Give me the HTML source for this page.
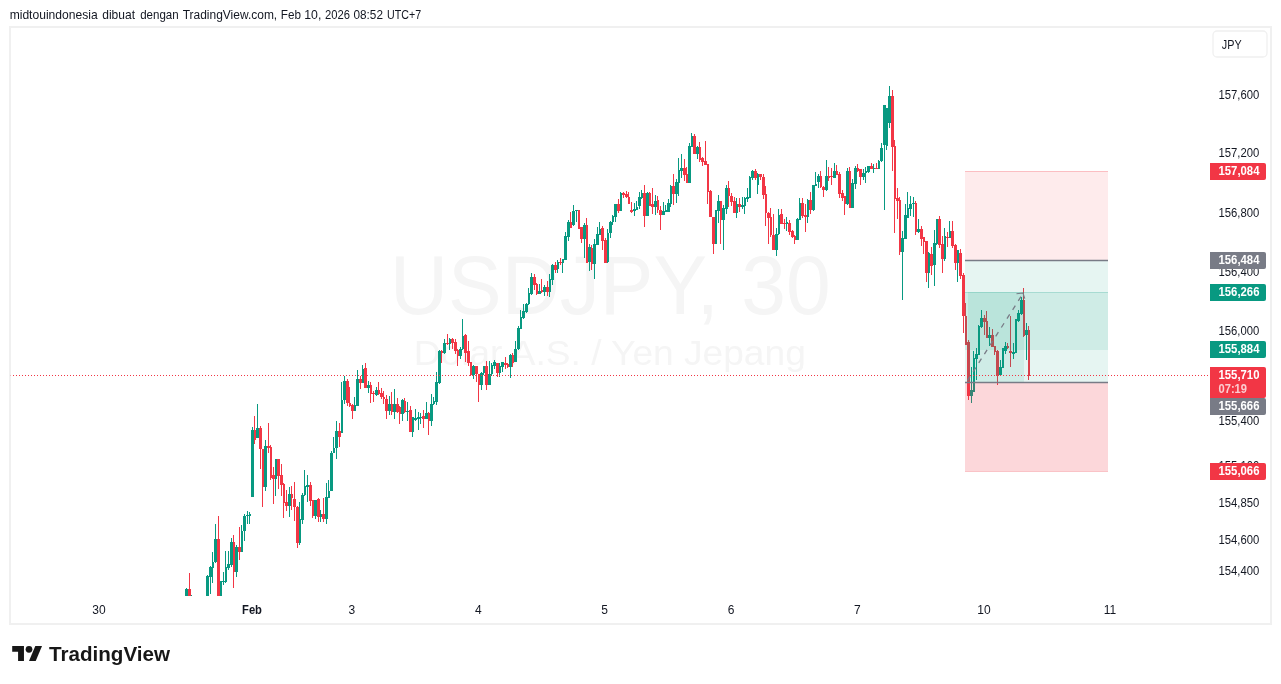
<!DOCTYPE html>
<html><head><meta charset="utf-8"><title>USDJPY</title>
<style>
html,body{margin:0;padding:0;background:#fff;}
body{width:1281px;height:684px;overflow:hidden;position:relative;font-family:"Liberation Sans",sans-serif;}
svg{position:absolute;left:0;top:0;display:block;will-change:transform;}
svg text{font-family:"Liberation Sans",sans-serif;}
</style></head><body>
<svg width="1281" height="684" viewBox="0 0 1281 684">
<rect x="0" y="0" width="1281" height="684" fill="#ffffff"/>
<!-- header -->
<text transform="translate(9.64,18.8) scale(1.0081,1)" font-size="12" font-weight="normal" fill="#131722">midtouindonesia</text><text transform="translate(102.20,18.8) scale(1.0047,1)" font-size="12" font-weight="normal" fill="#131722">dibuat</text><text transform="translate(140.17,18.8) scale(0.9613,1)" font-size="12" font-weight="normal" fill="#131722">dengan</text><text transform="translate(182.65,18.8) scale(0.9989,1)" font-size="12" font-weight="normal" fill="#131722">TradingView.com,</text><text transform="translate(280.82,18.8) scale(0.9766,1)" font-size="12" font-weight="normal" fill="#131722">Feb</text><text transform="translate(304.28,18.8) scale(1.0237,1)" font-size="12" font-weight="normal" fill="#131722">10,</text><text transform="translate(325.03,18.8) scale(0.9359,1)" font-size="12" font-weight="normal" fill="#131722">2026</text><text transform="translate(353.51,18.8) scale(0.9828,1)" font-size="12" font-weight="normal" fill="#131722">08:52</text><text transform="translate(387.01,18.8) scale(0.8898,1)" font-size="12" font-weight="normal" fill="#131722">UTC+7</text>
<!-- frame -->
<rect x="10" y="27" width="1261" height="597" fill="#ffffff" stroke="#f0f0f0" stroke-width="2"/>
<!-- watermark -->
<g fill="#f5f5f5">
<text id="wm1" transform="translate(390.1,314.3) scale(1.004,1.05)" font-size="80">USDJPY, 30</text>
<text id="wm2" transform="translate(413.75,364.75) scale(1.031,0.995)" font-size="36">Dolar A.S. / Yen Jepang</text>
</g>
<!-- candles -->
<g shape-rendering="crispEdges"><path fill="#089981" d="M186 588h1v8h-1zM185 589h3v7h-3z"/><path fill="#f23645" d="M189 573h1v23h-1zM188 589h3v7h-3z"/><path fill="#089981" d="M191 595h1v1h-1zM207 575h1v21h-1zM206 576h3v20h-3zM210 566h1v28h-1zM209 567h3v10h-3zM212 552h1v31h-1zM212 562h2v6h-2zM215 524h1v39h-1zM214 539h3v23h-3z"/><path fill="#f23645" d="M218 516h1v80h-1zM217 539h3v57h-3z"/><path fill="#089981" d="M220 581h1v15h-1zM220 581h2v15h-2zM223 572h1v13h-1zM222 581h3v1h-3zM225 551h1v32h-1zM225 567h2v15h-2zM228 551h1v19h-1zM227 564h3v4h-3zM231 538h1v29h-1zM230 542h3v23h-3z"/><path fill="#f23645" d="M233 535h1v53h-1zM233 542h2v30h-2z"/><path fill="#089981" d="M236 545h1v32h-1zM235 547h3v25h-3z"/><path fill="#f23645" d="M239 527h1v33h-1zM238 547h3v5h-3z"/><path fill="#089981" d="M241 525h1v27h-1zM241 531h2v21h-2zM244 514h1v27h-1zM243 516h3v15h-3zM247 511h1v13h-1zM246 515h3v1h-3zM249 512h1v12h-1zM249 514h2v2h-2zM252 427h1v70h-1zM251 430h3v67h-3z"/><path fill="#f23645" d="M254 416h1v28h-1zM254 430h2v10h-2z"/><path fill="#089981" d="M257 404h1v34h-1zM256 428h3v10h-3z"/><path fill="#f23645" d="M260 426h1v43h-1zM259 428h3v21h-3zM262 449h1v58h-1zM262 449h2v38h-2z"/><path fill="#089981" d="M265 440h1v51h-1zM264 446h3v41h-3z"/><path fill="#f23645" d="M268 423h1v30h-1zM267 446h3v2h-3zM270 445h1v35h-1zM270 447h2v31h-2zM273 467h1v37h-1zM272 475h3v4h-3z"/><path fill="#089981" d="M275 459h1v37h-1zM275 459h2v20h-2z"/><path fill="#f23645" d="M278 459h1v30h-1zM277 459h3v17h-3zM281 464h1v32h-1zM280 475h3v10h-3zM283 483h1v35h-1zM283 484h2v19h-2zM286 490h1v21h-1zM285 502h3v4h-3z"/><path fill="#089981" d="M289 487h1v30h-1zM288 494h3v12h-3z"/><path fill="#f23645" d="M291 486h1v24h-1zM291 494h2v4h-2zM294 482h1v39h-1zM293 499h3v8h-3zM297 506h1v42h-1zM296 507h3v36h-3z"/><path fill="#089981" d="M299 502h1v43h-1zM299 519h2v24h-2zM302 493h1v31h-1zM301 495h3v25h-3zM304 470h1v26h-1zM304 486h2v9h-2zM307 475h1v27h-1zM306 485h3v2h-3z"/><path fill="#f23645" d="M310 482h1v24h-1zM309 485h3v16h-3zM312 500h1v18h-1zM312 500h2v16h-2z"/><path fill="#089981" d="M315 500h1v19h-1zM314 500h3v16h-3z"/><path fill="#f23645" d="M318 498h1v24h-1zM317 499h3v18h-3z"/><path fill="#089981" d="M320 510h1v12h-1zM320 514h2v3h-2z"/><path fill="#f23645" d="M323 498h1v24h-1zM322 514h3v5h-3z"/><path fill="#089981" d="M326 483h1v41h-1zM325 497h3v22h-3zM328 480h1v18h-1zM328 491h2v7h-2zM331 451h1v40h-1zM330 453h3v38h-3zM333 437h1v16h-1zM333 448h2v5h-2zM336 421h1v38h-1zM335 431h3v17h-3z"/><path fill="#f23645" d="M339 423h1v24h-1zM338 431h3v6h-3z"/><path fill="#089981" d="M341 382h1v51h-1zM341 400h2v33h-2zM344 376h1v28h-1zM343 381h3v19h-3z"/><path fill="#f23645" d="M347 379h1v27h-1zM346 381h3v22h-3zM349 387h1v20h-1zM349 403h2v3h-2zM352 404h1v15h-1zM351 405h3v6h-3z"/><path fill="#089981" d="M354 397h1v14h-1zM354 405h2v6h-2zM357 370h1v36h-1zM356 379h3v27h-3z"/><path fill="#f23645" d="M360 376h1v13h-1zM359 379h3v4h-3z"/><path fill="#089981" d="M362 365h1v18h-1zM362 369h2v14h-2z"/><path fill="#f23645" d="M365 363h1v25h-1zM364 368h3v20h-3z"/><path fill="#089981" d="M368 381h1v12h-1zM367 385h3v3h-3z"/><path fill="#f23645" d="M370 382h1v21h-1zM370 385h2v9h-2zM373 391h1v11h-1zM372 393h3v1h-3z"/><path fill="#089981" d="M376 387h1v9h-1zM375 390h3v5h-3z"/><path fill="#f23645" d="M378 382h1v13h-1zM378 390h2v4h-2zM381 388h1v11h-1zM380 393h3v4h-3zM383 391h1v13h-1zM383 397h2v2h-2zM386 395h1v24h-1zM385 399h3v12h-3z"/><path fill="#089981" d="M389 396h1v19h-1zM388 404h3v7h-3z"/><path fill="#f23645" d="M391 392h1v23h-1zM391 404h2v8h-2z"/><path fill="#089981" d="M394 389h1v30h-1zM393 404h3v8h-3z"/><path fill="#f23645" d="M397 398h1v15h-1zM396 404h3v8h-3zM399 406h1v18h-1zM399 407h2v7h-2z"/><path fill="#089981" d="M402 399h1v22h-1zM401 400h3v14h-3z"/><path fill="#f23645" d="M404 398h1v15h-1zM404 401h2v11h-2z"/><path fill="#089981" d="M407 402h1v19h-1zM406 411h3v1h-3z"/><path fill="#f23645" d="M410 406h1v26h-1zM409 410h3v22h-3z"/><path fill="#089981" d="M412 417h1v20h-1zM412 417h2v15h-2zM415 409h1v12h-1zM414 418h3v2h-3zM418 412h1v18h-1zM417 417h3v2h-3zM420 413h1v11h-1zM420 417h2v1h-2z"/><path fill="#f23645" d="M423 410h1v18h-1zM422 416h3v3h-3z"/><path fill="#089981" d="M426 402h1v17h-1zM425 413h3v6h-3z"/><path fill="#f23645" d="M428 412h1v23h-1zM428 413h2v8h-2z"/><path fill="#089981" d="M431 394h1v32h-1zM430 404h3v17h-3zM433 397h1v8h-1zM433 401h2v3h-2zM436 372h1v33h-1zM435 382h3v20h-3zM439 350h1v34h-1zM438 351h3v32h-3z"/><path fill="#f23645" d="M441 350h1v13h-1zM441 351h2v2h-2z"/><path fill="#089981" d="M444 339h1v15h-1zM443 343h3v10h-3z"/><path fill="#f23645" d="M447 334h1v11h-1zM446 343h3v1h-3z"/><path fill="#089981" d="M449 338h1v12h-1zM449 339h2v5h-2z"/><path fill="#f23645" d="M452 338h1v11h-1zM451 339h3v4h-3zM455 339h1v15h-1zM454 342h3v9h-3zM457 349h1v17h-1zM457 350h2v6h-2z"/><path fill="#089981" d="M460 347h1v12h-1zM459 349h3v7h-3zM462 319h1v31h-1zM462 336h2v13h-2z"/><path fill="#f23645" d="M465 334h1v28h-1zM464 335h3v18h-3zM468 341h1v25h-1zM467 351h3v12h-3zM470 362h1v14h-1zM470 362h2v13h-2z"/><path fill="#089981" d="M473 365h1v14h-1zM472 366h3v9h-3z"/><path fill="#f23645" d="M476 366h1v16h-1zM475 366h3v8h-3zM478 374h1v28h-1zM478 374h2v11h-2z"/><path fill="#089981" d="M481 372h1v18h-1zM480 373h3v12h-3zM483 366h1v9h-1zM483 366h2v7h-2z"/><path fill="#f23645" d="M486 361h1v29h-1zM485 366h3v19h-3z"/><path fill="#089981" d="M489 361h1v24h-1zM488 374h3v11h-3zM491 363h1v13h-1zM491 365h2v9h-2zM494 360h1v9h-1zM493 362h3v4h-3z"/><path fill="#f23645" d="M497 363h1v14h-1zM496 363h3v10h-3z"/><path fill="#089981" d="M499 363h1v14h-1zM499 366h2v7h-2zM502 362h1v10h-1zM501 362h3v5h-3z"/><path fill="#f23645" d="M505 357h1v12h-1zM504 363h3v2h-3zM507 363h1v5h-1zM507 364h2v3h-2z"/><path fill="#089981" d="M510 354h1v24h-1zM509 355h3v12h-3z"/><path fill="#f23645" d="M512 353h1v14h-1zM512 355h2v8h-2z"/><path fill="#089981" d="M515 341h1v21h-1zM514 349h3v13h-3zM518 326h1v24h-1zM517 328h3v21h-3zM520 310h1v19h-1zM520 317h2v12h-2zM523 304h1v15h-1zM522 311h3v7h-3zM526 303h1v10h-1zM525 304h3v8h-3zM528 288h1v17h-1zM528 293h2v11h-2zM531 273h1v22h-1zM530 277h3v17h-3z"/><path fill="#f23645" d="M534 274h1v16h-1zM533 277h3v8h-3zM536 283h1v12h-1zM536 284h2v10h-2z"/><path fill="#089981" d="M539 284h1v10h-1zM538 291h3v3h-3z"/><path fill="#f23645" d="M541 279h1v14h-1zM541 290h2v2h-2z"/><path fill="#089981" d="M544 285h1v11h-1zM543 287h3v5h-3z"/><path fill="#f23645" d="M547 281h1v15h-1zM546 287h3v5h-3z"/><path fill="#089981" d="M549 274h1v23h-1zM549 279h2v13h-2zM552 264h1v21h-1zM551 265h3v15h-3z"/><path fill="#f23645" d="M555 262h1v11h-1zM554 265h3v5h-3z"/><path fill="#089981" d="M557 260h1v13h-1zM557 262h2v7h-2z"/><path fill="#f23645" d="M560 258h1v7h-1zM559 262h3v1h-3z"/><path fill="#089981" d="M562 259h1v14h-1zM562 259h2v4h-2zM565 232h1v28h-1zM564 236h3v24h-3zM568 220h1v21h-1zM567 222h3v15h-3z"/><path fill="#f23645" d="M570 212h1v16h-1zM570 222h2v6h-2z"/><path fill="#089981" d="M573 205h1v21h-1zM572 211h3v14h-3zM576 210h1v12h-1zM575 210h3v1h-3z"/><path fill="#f23645" d="M578 210h1v19h-1zM578 210h2v19h-2zM581 227h1v16h-1zM580 227h3v12h-3z"/><path fill="#089981" d="M584 223h1v35h-1zM583 225h3v14h-3z"/><path fill="#f23645" d="M586 218h1v45h-1zM586 225h2v38h-2z"/><path fill="#089981" d="M589 244h1v27h-1zM588 247h3v15h-3z"/><path fill="#f23645" d="M591 245h1v25h-1zM591 248h2v16h-2z"/><path fill="#089981" d="M594 239h1v40h-1zM593 244h3v20h-3zM597 227h1v18h-1zM596 234h3v11h-3zM599 222h1v13h-1zM599 229h2v6h-2z"/><path fill="#f23645" d="M602 226h1v24h-1zM601 228h3v13h-3zM605 238h1v25h-1zM604 240h3v23h-3z"/><path fill="#089981" d="M607 229h1v34h-1zM607 233h2v29h-2zM610 221h1v17h-1zM609 222h3v11h-3zM612 215h1v10h-1zM612 216h2v6h-2zM615 204h1v18h-1zM614 204h3v13h-3z"/><path fill="#f23645" d="M618 199h1v14h-1zM617 204h3v7h-3z"/><path fill="#089981" d="M620 192h1v19h-1zM620 193h2v18h-2z"/><path fill="#f23645" d="M623 192h1v6h-1zM622 193h3v2h-3zM626 191h1v7h-1zM625 194h3v3h-3zM628 192h1v12h-1zM628 197h2v7h-2zM631 202h1v11h-1zM630 210h3v2h-3z"/><path fill="#089981" d="M634 203h1v13h-1zM633 209h3v2h-3zM636 201h1v9h-1zM636 207h2v3h-2zM639 192h1v17h-1zM638 197h3v9h-3zM641 190h1v9h-1zM641 193h2v5h-2z"/><path fill="#f23645" d="M644 185h1v42h-1zM643 193h3v23h-3z"/><path fill="#089981" d="M647 192h1v24h-1zM646 193h3v23h-3z"/><path fill="#f23645" d="M649 192h1v14h-1zM649 193h2v13h-2zM652 188h1v26h-1zM651 204h3v3h-3z"/><path fill="#089981" d="M655 195h1v20h-1zM654 201h3v6h-3z"/><path fill="#f23645" d="M657 196h1v17h-1zM657 200h2v10h-2zM660 206h1v24h-1zM659 210h3v5h-3z"/><path fill="#089981" d="M663 202h1v13h-1zM662 211h3v4h-3zM665 205h1v7h-1zM665 210h2v2h-2zM668 199h1v13h-1zM667 203h3v9h-3zM670 185h1v22h-1zM670 186h2v18h-2z"/><path fill="#f23645" d="M673 174h1v31h-1zM672 186h3v8h-3z"/><path fill="#089981" d="M676 179h1v24h-1zM675 182h3v12h-3zM678 158h1v38h-1zM678 170h2v13h-2zM681 154h1v24h-1zM680 168h3v3h-3z"/><path fill="#f23645" d="M684 159h1v22h-1zM683 168h3v7h-3zM686 167h1v16h-1zM686 174h2v9h-2z"/><path fill="#089981" d="M689 143h1v40h-1zM688 146h3v37h-3zM691 133h1v14h-1zM691 136h2v11h-2z"/><path fill="#f23645" d="M694 134h1v20h-1zM693 136h3v18h-3z"/><path fill="#089981" d="M697 146h1v13h-1zM696 147h3v7h-3z"/><path fill="#f23645" d="M699 142h1v20h-1zM699 147h2v13h-2zM702 157h1v9h-1zM701 158h3v4h-3zM705 141h1v24h-1zM704 161h3v4h-3zM707 164h1v40h-1zM707 164h2v28h-2zM710 190h1v27h-1zM709 191h3v26h-3zM713 217h1v37h-1zM712 217h3v27h-3z"/><path fill="#089981" d="M715 210h1v34h-1zM715 210h2v34h-2zM718 195h1v28h-1zM717 201h3v10h-3z"/><path fill="#f23645" d="M720 201h1v43h-1zM720 201h2v19h-2z"/><path fill="#089981" d="M723 205h1v45h-1zM722 208h3v12h-3zM726 185h1v29h-1zM725 188h3v21h-3z"/><path fill="#f23645" d="M728 181h1v26h-1zM728 188h2v8h-2zM731 193h1v13h-1zM730 196h3v6h-3zM734 197h1v16h-1zM733 201h3v12h-3z"/><path fill="#089981" d="M736 198h1v20h-1zM736 204h2v9h-2z"/><path fill="#f23645" d="M739 198h1v14h-1zM738 204h3v3h-3z"/><path fill="#089981" d="M742 197h1v12h-1zM741 205h3v2h-3zM744 197h1v17h-1zM744 198h2v8h-2zM747 188h1v14h-1zM746 197h3v2h-3zM749 176h1v22h-1zM749 177h2v21h-2zM752 170h1v10h-1zM751 171h3v7h-3z"/><path fill="#f23645" d="M755 169h1v11h-1zM754 171h3v7h-3z"/><path fill="#089981" d="M757 173h1v21h-1zM757 174h2v11h-2z"/><path fill="#f23645" d="M760 174h1v6h-1zM759 174h3v3h-3zM763 174h1v25h-1zM762 177h3v18h-3zM765 186h1v40h-1zM765 194h2v19h-2zM768 212h1v32h-1zM767 213h3v5h-3zM770 208h1v29h-1zM770 217h2v18h-2zM773 214h1v36h-1zM772 235h3v15h-3z"/><path fill="#089981" d="M776 228h1v28h-1zM775 234h3v16h-3zM778 209h1v26h-1zM778 215h2v19h-2z"/><path fill="#f23645" d="M781 209h1v15h-1zM780 214h3v10h-3zM784 219h1v10h-1zM783 223h3v1h-3z"/><path fill="#089981" d="M786 217h1v14h-1zM786 222h2v2h-2z"/><path fill="#f23645" d="M789 220h1v15h-1zM788 223h3v9h-3zM792 230h1v8h-1zM791 231h3v6h-3zM794 235h1v9h-1zM794 236h2v4h-2z"/><path fill="#089981" d="M797 218h1v22h-1zM796 219h3v21h-3zM799 198h1v22h-1zM799 203h2v17h-2z"/><path fill="#f23645" d="M802 198h1v20h-1zM801 203h3v13h-3zM805 204h1v28h-1zM804 215h3v2h-3z"/><path fill="#089981" d="M807 199h1v24h-1zM807 200h2v17h-2z"/><path fill="#f23645" d="M810 192h1v22h-1zM809 200h3v10h-3z"/><path fill="#089981" d="M813 185h1v26h-1zM812 185h3v25h-3zM815 172h1v14h-1zM815 184h2v2h-2zM818 174h1v14h-1zM817 176h3v6h-3z"/><path fill="#f23645" d="M820 171h1v17h-1zM820 176h2v11h-2zM823 186h1v11h-1zM822 187h3v3h-3z"/><path fill="#089981" d="M826 160h1v31h-1zM825 176h3v14h-3z"/><path fill="#f23645" d="M828 167h1v14h-1zM828 176h2v2h-2zM831 168h1v17h-1zM830 176h3v1h-3z"/><path fill="#089981" d="M834 163h1v15h-1zM833 171h3v7h-3z"/><path fill="#f23645" d="M836 165h1v10h-1zM836 171h2v4h-2zM839 172h1v26h-1zM838 174h3v20h-3zM842 190h1v11h-1zM841 193h3v5h-3zM844 196h1v19h-1zM844 196h2v8h-2z"/><path fill="#089981" d="M847 168h1v37h-1zM846 171h3v33h-3z"/><path fill="#f23645" d="M849 167h1v41h-1zM849 171h2v37h-2z"/><path fill="#089981" d="M852 179h1v29h-1zM851 183h3v25h-3zM855 166h1v23h-1zM854 168h3v16h-3z"/><path fill="#f23645" d="M857 164h1v8h-1zM857 168h2v3h-2zM860 169h1v16h-1zM859 169h3v8h-3z"/><path fill="#089981" d="M863 169h1v11h-1zM862 173h3v4h-3zM865 167h1v16h-1zM865 171h2v2h-2zM868 166h1v7h-1zM867 166h3v6h-3z"/><path fill="#f23645" d="M871 163h1v6h-1zM870 166h3v3h-3z"/><path fill="#089981" d="M873 164h1v9h-1zM873 168h2v1h-2z"/><path fill="#f23645" d="M876 163h1v6h-1zM875 168h3v1h-3z"/><path fill="#089981" d="M878 160h1v9h-1zM878 161h2v8h-2zM881 143h1v19h-1zM880 148h3v13h-3zM884 105h1v105h-1zM883 105h3v40h-3zM886 108h1v42h-1zM886 108h2v38h-2zM889 86h1v42h-1zM888 96h3v27h-3z"/><path fill="#f23645" d="M892 90h1v81h-1zM891 96h3v51h-3zM894 140h1v93h-1zM894 146h2v53h-2zM897 188h1v31h-1zM896 198h3v3h-3zM899 197h1v58h-1zM899 200h2v52h-2z"/><path fill="#089981" d="M902 231h1v69h-1zM901 238h3v14h-3zM905 204h1v35h-1zM904 215h3v24h-3zM907 192h1v26h-1zM907 208h2v10h-2zM910 196h1v20h-1zM909 204h3v5h-3zM913 197h1v20h-1zM912 203h3v1h-3z"/><path fill="#f23645" d="M915 201h1v34h-1zM915 203h2v29h-2z"/><path fill="#089981" d="M918 219h1v14h-1zM917 229h3v3h-3z"/><path fill="#f23645" d="M921 226h1v20h-1zM920 229h3v10h-3zM923 237h1v17h-1zM923 237h2v5h-2zM926 241h1v41h-1zM925 241h3v32h-3z"/><path fill="#089981" d="M928 252h1v36h-1zM928 253h2v20h-2z"/><path fill="#f23645" d="M931 247h1v28h-1zM930 254h3v12h-3z"/><path fill="#089981" d="M934 230h1v56h-1zM933 243h3v22h-3zM936 219h1v26h-1zM936 219h2v25h-2z"/><path fill="#f23645" d="M939 216h1v32h-1zM938 219h3v26h-3zM942 236h1v37h-1zM941 244h3v15h-3z"/><path fill="#089981" d="M944 228h1v33h-1zM944 236h2v23h-2z"/><path fill="#f23645" d="M947 232h1v15h-1zM946 237h3v1h-3z"/><path fill="#089981" d="M949 221h1v17h-1zM949 231h2v7h-2z"/><path fill="#f23645" d="M952 221h1v27h-1zM951 231h3v15h-3zM955 244h1v26h-1zM954 245h3v18h-3z"/><path fill="#089981" d="M957 250h1v32h-1zM957 250h2v13h-2z"/><path fill="#f23645" d="M960 249h1v30h-1zM959 253h3v23h-3zM963 273h1v60h-1zM962 275h3v41h-3zM965 303h1v42h-1zM965 316h2v29h-2zM968 340h1v60h-1zM967 342h3v54h-3z"/><path fill="#089981" d="M971 367h1v36h-1zM970 390h3v6h-3zM973 351h1v41h-1zM973 358h2v34h-2zM976 348h1v32h-1zM975 354h3v5h-3zM978 325h1v30h-1zM978 326h2v29h-2zM981 310h1v18h-1zM980 318h3v9h-3z"/><path fill="#f23645" d="M984 315h1v20h-1zM983 318h3v4h-3zM986 311h1v27h-1zM986 321h2v17h-2z"/><path fill="#089981" d="M989 327h1v19h-1zM988 335h3v3h-3z"/><path fill="#f23645" d="M992 329h1v18h-1zM991 335h3v12h-3zM994 346h1v9h-1zM994 346h2v6h-2zM997 350h1v35h-1zM996 351h3v25h-3z"/><path fill="#089981" d="M1000 360h1v16h-1zM999 367h3v8h-3zM1002 348h1v20h-1zM1002 348h2v20h-2zM1005 342h1v12h-1zM1004 346h3v5h-3z"/><path fill="#f23645" d="M1007 343h1v6h-1zM1007 346h2v2h-2zM1010 316h1v51h-1zM1009 351h3v2h-3z"/><path fill="#089981" d="M1013 343h1v16h-1zM1012 352h3v2h-3zM1015 319h1v34h-1zM1015 319h2v34h-2zM1018 310h1v12h-1zM1017 313h3v8h-3zM1021 297h1v18h-1zM1020 300h3v14h-3z"/><path fill="#f23645" d="M1023 288h1v49h-1zM1023 300h2v36h-2z"/><path fill="#089981" d="M1026 323h1v37h-1zM1025 330h3v5h-3z"/><path fill="#f23645" d="M1028 326h1v54h-1zM1028 330h2v46h-2z"/></g>
<!-- position tools -->
<g shape-rendering="crispEdges">
<rect x="965" y="171" width="143" height="89.5" fill="#f23645" fill-opacity="0.1"/>
<rect x="965" y="260.5" width="143" height="89" fill="#089981" fill-opacity="0.1"/>
<rect x="965" y="292" width="143" height="90.5" fill="#089981" fill-opacity="0.1"/>
<rect x="967.5" y="292" width="56.5" height="90.5" fill="#089981" fill-opacity="0.1"/>
<rect x="965" y="382.5" width="143" height="89.5" fill="#f23645" fill-opacity="0.2"/>
</g>
<line x1="965" y1="171.5" x2="1108" y2="171.5" stroke="#f23645" stroke-opacity="0.25" stroke-width="1"/>
<line x1="965" y1="292.5" x2="1108" y2="292.5" stroke="#089981" stroke-opacity="0.2" stroke-width="1"/>
<line x1="965" y1="471.5" x2="1108" y2="471.5" stroke="#f23645" stroke-opacity="0.12" stroke-width="1"/>
<line x1="965" y1="260.5" x2="1108" y2="260.5" stroke="#787b86" stroke-width="1.4"/>
<line x1="965" y1="382.5" x2="1108" y2="382.5" stroke="#787b86" stroke-width="1.4"/>
<g stroke="#787b86" fill="none">
<line x1="966.4" y1="382.3" x2="1023.2" y2="293.2" stroke-width="1.3" stroke-dasharray="5 5.5" stroke-dashoffset="-2"/>
<path d="M1016.5 293.7L1023 293L1024.8 298.6" stroke-width="1.1"/>
</g>
<!-- last price dotted line -->
<line x1="13" y1="375.5" x2="1208" y2="375.5" stroke="#f23645" stroke-width="1" stroke-dasharray="1 2" shape-rendering="crispEdges"/>
<rect x="10" y="375" width="1" height="1" fill="#f23645" fill-opacity="0.3"/>
<!-- price axis -->
<text x="1218.5" y="98.6" font-size="12" font-weight="normal" fill="#131722" textLength="40.8" lengthAdjust="spacingAndGlyphs">157,600</text><text x="1218.5" y="156.9" font-size="12" font-weight="normal" fill="#131722" textLength="40.8" lengthAdjust="spacingAndGlyphs">157,200</text><text x="1218.5" y="217.4" font-size="12" font-weight="normal" fill="#131722" textLength="40.8" lengthAdjust="spacingAndGlyphs">156,800</text><text x="1218.5" y="276.1" font-size="12" font-weight="normal" fill="#131722" textLength="40.8" lengthAdjust="spacingAndGlyphs">156,400</text><text x="1218.5" y="334.9" font-size="12" font-weight="normal" fill="#131722" textLength="40.8" lengthAdjust="spacingAndGlyphs">156,000</text><text x="1218.5" y="425.1" font-size="12" font-weight="normal" fill="#131722" textLength="40.8" lengthAdjust="spacingAndGlyphs">155,400</text><text x="1218.5" y="469.7" font-size="12" font-weight="normal" fill="#131722" textLength="40.8" lengthAdjust="spacingAndGlyphs">155,100</text><text x="1218.5" y="506.9" font-size="12" font-weight="normal" fill="#131722" textLength="40.8" lengthAdjust="spacingAndGlyphs">154,850</text><text x="1218.5" y="544.0" font-size="12" font-weight="normal" fill="#131722" textLength="40.8" lengthAdjust="spacingAndGlyphs">154,600</text><text x="1218.5" y="574.9" font-size="12" font-weight="normal" fill="#131722" textLength="40.8" lengthAdjust="spacingAndGlyphs">154,400</text><path fill="#f23645" d="M1210 163h54a2 2 0 0 1 2 2v13a2 2 0 0 1 -2 2h-54z"/><text x="1218.5" y="175.0" font-size="12" font-weight="bold" fill="#fff" textLength="41" lengthAdjust="spacingAndGlyphs">157,084</text><path fill="#787b86" d="M1210 252h54a2 2 0 0 1 2 2v13a2 2 0 0 1 -2 2h-54z"/><text x="1218.5" y="264.0" font-size="12" font-weight="bold" fill="#fff" textLength="41" lengthAdjust="spacingAndGlyphs">156,484</text><path fill="#089981" d="M1210 284h54a2 2 0 0 1 2 2v13a2 2 0 0 1 -2 2h-54z"/><text x="1218.5" y="296.0" font-size="12" font-weight="bold" fill="#fff" textLength="41" lengthAdjust="spacingAndGlyphs">156,266</text><path fill="#089981" d="M1210 341h54a2 2 0 0 1 2 2v13a2 2 0 0 1 -2 2h-54z"/><text x="1218.5" y="353.0" font-size="12" font-weight="bold" fill="#fff" textLength="41" lengthAdjust="spacingAndGlyphs">155,884</text><path fill="#f23645" d="M1210 367h54a2 2 0 0 1 2 2v27a2 2 0 0 1 -2 2h-54z"/><text x="1218.5" y="379.2" font-size="12" font-weight="bold" fill="#fff" textLength="41" lengthAdjust="spacingAndGlyphs">155,710</text><text x="1218.5" y="393" font-size="12" font-weight="bold" fill="#fff" fill-opacity="0.75" textLength="28.5" lengthAdjust="spacingAndGlyphs">07:19</text><path fill="#787b86" d="M1210 398h54a2 2 0 0 1 2 2v13a2 2 0 0 1 -2 2h-54z"/><text x="1218.5" y="410.0" font-size="12" font-weight="bold" fill="#fff" textLength="41" lengthAdjust="spacingAndGlyphs">155,666</text><path fill="#f23645" d="M1210 463h54a2 2 0 0 1 2 2v13a2 2 0 0 1 -2 2h-54z"/><text x="1218.5" y="475.0" font-size="12" font-weight="bold" fill="#fff" textLength="41" lengthAdjust="spacingAndGlyphs">155,066</text>
<!-- JPY box -->
<rect x="1213" y="31" width="54" height="26" rx="4" ry="4" fill="#fff" stroke="#f0f0f0" stroke-width="1.3"/>
<text x="1221.8" y="49" font-size="12" fill="#131722" textLength="19.8" lengthAdjust="spacingAndGlyphs">JPY</text>
<!-- time axis -->
<text x="98.9" y="614" font-size="12" font-weight="normal" text-anchor="middle" fill="#131722">30</text><text x="252" y="614" font-size="12" font-weight="bold" text-anchor="middle" fill="#131722" textLength="19.9" lengthAdjust="spacingAndGlyphs">Feb</text><text x="351.8" y="614" font-size="12" font-weight="normal" text-anchor="middle" fill="#131722">3</text><text x="478.3" y="614" font-size="12" font-weight="normal" text-anchor="middle" fill="#131722">4</text><text x="604.5" y="614" font-size="12" font-weight="normal" text-anchor="middle" fill="#131722">5</text><text x="731" y="614" font-size="12" font-weight="normal" text-anchor="middle" fill="#131722">6</text><text x="857.3" y="614" font-size="12" font-weight="normal" text-anchor="middle" fill="#131722">7</text><text x="984" y="614" font-size="12" font-weight="normal" text-anchor="middle" fill="#131722">10</text><text x="1110" y="614" font-size="12" font-weight="normal" text-anchor="middle" fill="#131722">11</text>
<!-- logo -->
<g transform="translate(12.2,642.6) scale(0.84)" fill="#171717">
<path d="M14 22H7V11H0V4h14v18z"/><circle cx="20" cy="8" r="4"/><path d="M28 22h-8l7.5-18h8L28 22z"/>
</g>
<text x="49" y="660.6" font-size="20.5" font-weight="bold" fill="#171717" textLength="121" lengthAdjust="spacingAndGlyphs">TradingView</text>
</svg>
</body></html>
